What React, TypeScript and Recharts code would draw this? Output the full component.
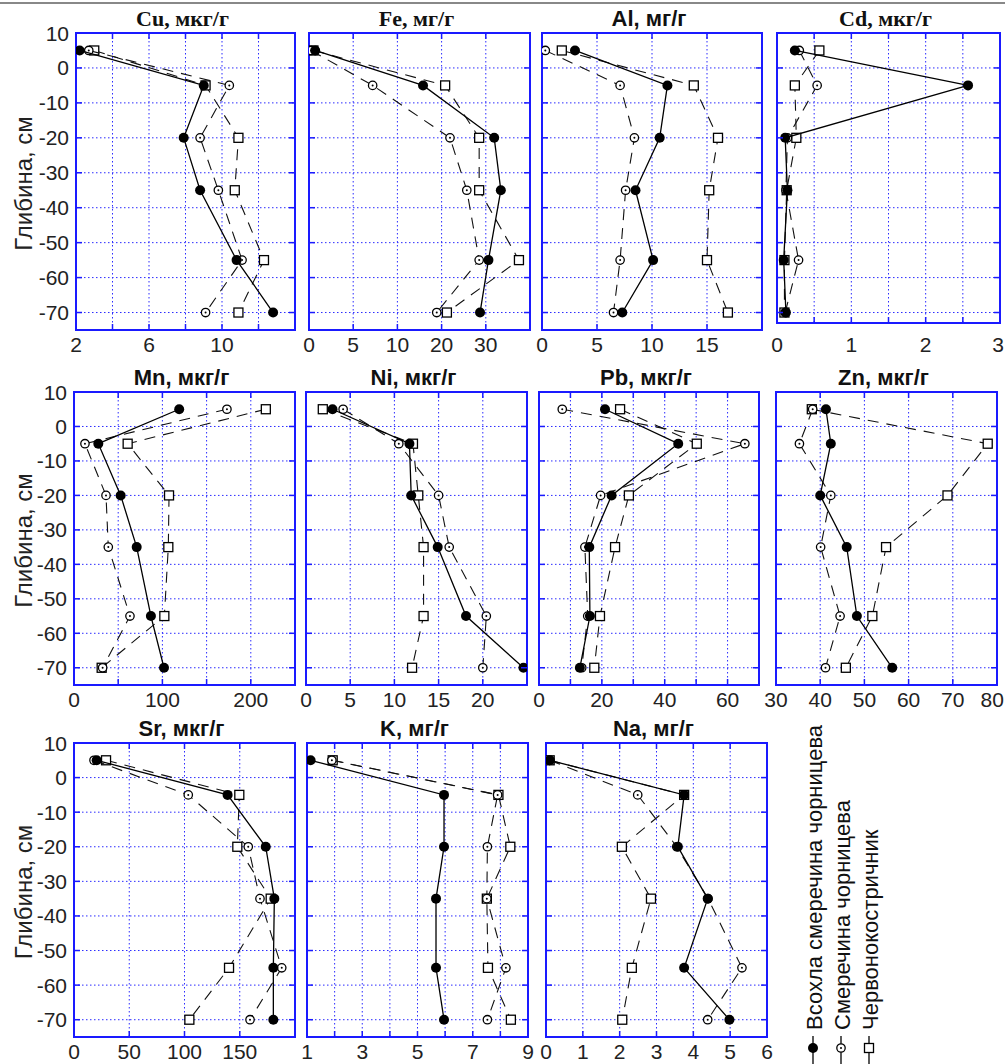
import React from 'react';
import { ScatterChart, Scatter, XAxis, YAxis, CartesianGrid, ReferenceArea } from 'recharts';

// ---- shared depth axis ----
const depths = [5, -5, -20, -35, -55, -70];
const depthTicks = [10, 0, -10, -20, -30, -40, -50, -60, -70];
const depthTickLabels = ['10', '0', '-10', '-20', '-30', '-40', '-50', '-60', '-70'];

const seriesNames = ['Всохла смеречина чорницева', 'Смеречина чорницева', 'Червонокостричник'];

// ---- Cu, мкг/г ----
const cuTicks = [2, 4, 6, 8, 10, 12, 14];
const cuTickLabels = ['2', '', '6', '', '10', '', ''];
const cuDead = [2.2, 9.0, 7.9, 8.8, 10.8, 12.8];
const cuSpruce = [2.7, 10.4, 8.8, 9.8, 11.1, 9.1];
const cuFescue = [3.0, 9.1, 10.9, 10.7, 12.3, 10.9];

// ---- Fe, мг/г (axis labelled 0,5,10,20,30 on equal grid steps) ----
const feTicks = [0, 10, 20, 30, 40, 50];
const feTickLabels = ['0', '5', '10', '20', '30', ''];
const feDead = [1.4, 25.8, 41.9, 43.4, 40.6, 38.7];
const feSpruce = [0.5, 14.4, 31.9, 35.7, 38.5, 28.9];
const feFescue = [1.0, 30.8, 38.5, 38.5, 47.5, 31.2];

// ---- Al, мг/г ----
const alTicks = [0, 5, 10, 15, 20];
const alTickLabels = ['0', '5', '10', '15', ''];
const alDead = [3.0, 11.4, 10.7, 8.5, 10.1, 7.3];
const alSpruce = [0.3, 7.1, 8.4, 7.6, 7.1, 6.5];
const alFescue = [1.8, 13.8, 16.0, 15.2, 15.0, 16.9];

// ---- Cd, мкг/г ----
const cdTicks = [0, 0.5, 1, 1.5, 2, 2.5, 3];
const cdTickLabels = ['0', '', '1', '', '2', '', '3'];
const cdDead = [0.24, 2.57, 0.11, 0.14, 0.09, 0.12];
const cdSpruce = [0.3, 0.54, 0.14, 0.12, 0.29, 0.11];
const cdFescue = [0.57, 0.24, 0.26, 0.13, 0.1, 0.1];

// ---- Mn, мкг/г ----
const mnTicks = [0, 50, 100, 150, 200, 250];
const mnTickLabels = ['0', '', '100', '', '200', ''];
const mnDead = [119, 27.5, 52.8, 70.9, 87, 101.8];
const mnSpruce = [173, 12.4, 36.2, 38.8, 63.3, 32.4];
const mnFescue = [217, 60.7, 107.5, 106.7, 102.2, 31.3];

// ---- Ni, мкг/г ----
const niTicks = [0, 5, 10, 15, 20, 25];
const niTickLabels = ['0', '5', '10', '15', '20', ''];
const niDead = [3.0, 11.7, 11.9, 14.9, 18.1, 24.6];
const niSpruce = [4.2, 10.5, 15.0, 16.2, 20.4, 20.0];
const niFescue = [1.9, 12.1, 12.7, 13.3, 13.3, 12.0];

// ---- Pb, мкг/г ----
const pbTicks = [0, 10, 20, 30, 40, 50, 60, 70];
const pbTickLabels = ['0', '', '20', '', '40', '', '60', ''];
const pbDead = [21.0, 44.3, 23.1, 16.0, 16.2, 13.0];
const pbSpruce = [7.4, 65.5, 19.6, 14.6, 15.5, 13.6];
const pbFescue = [25.8, 50.2, 28.6, 24.2, 19.4, 17.6];

// ---- Zn, мкг/г ----
const znTicks = [30, 40, 50, 60, 70, 80];
const znTickLabels = ['30', '40', '50', '60', '70', '80'];
const znDead = [41.3, 42.4, 40.0, 46.0, 48.3, 56.3];
const znSpruce = [38.3, 35.3, 42.4, 40.1, 44.5, 41.2];
const znFescue = [38.1, 77.9, 68.8, 54.9, 51.8, 45.8];

// ---- Sr, мкг/г ----
const srTicks = [0, 50, 100, 150, 200];
const srTickLabels = ['0', '50', '100', '150', ''];
const srDead = [20.5, 139, 173.5, 181.3, 180.4, 180.4];
const srSpruce = [18.1, 103.4, 157.7, 168.3, 188, 159.3];
const srFescue = [29, 149.6, 147.8, 178, 140.3, 104.4];

// ---- K, мг/г ----
const kTicks = [1, 2, 3, 4, 5, 6, 7, 8, 9];
const kTickLabels = ['1', '', '3', '', '5', '', '7', '', '9'];
const kDead = [1.13, 5.96, 5.96, 5.67, 5.67, 5.96];
const kSpruce = [1.9, 7.9, 7.53, 7.51, 8.2, 7.53];
const kFescue = [1.93, 7.93, 8.36, 7.51, 7.55, 8.38];

// ---- Na, мг/г ----
const naTicks = [0, 1, 2, 3, 4, 5, 6];
const naTickLabels = ['0', '1', '2', '3', '4', '5', '6'];
const naDead = [0.1, 3.75, 3.58, 4.39, 3.75, 4.98];
const naSpruce = [0.1, 2.49, 3.55, 4.4, 5.32, 4.39];
const naFescue = [0.1, 3.75, 2.06, 2.85, 2.33, 2.07];

// ---- styles / layout ----
const BLUE = '#1a1aff';
const GRID = '#2b2bff';
const SANS = '"Liberation Sans", Arial, sans-serif';
const SERIF = '"Liberation Serif", "Times New Roman", serif';
const PAGE_RIGHT = 1004;

type Box = { left: number; top: number; width: number; height: number };

const panels = [
  { title: 'Cu, мкг/г', serif: true, ticks: cuTicks, labels: cuTickLabels, a: cuDead, b: cuSpruce, c: cuFescue, yMin: -75, box: { left: 76, top: 33, width: 219, height: 297 }, showY: true },
  { title: 'Fe, мг/г', serif: true, ticks: feTicks, labels: feTickLabels, a: feDead, b: feSpruce, c: feFescue, yMin: -75, box: { left: 309, top: 33, width: 221, height: 297 }, showY: false },
  { title: 'Al, мг/г', serif: false, ticks: alTicks, labels: alTickLabels, a: alDead, b: alSpruce, c: alFescue, yMin: -75, box: { left: 542, top: 33, width: 220, height: 297 }, showY: false },
  { title: 'Cd, мкг/г', serif: true, ticks: cdTicks, labels: cdTickLabels, a: cdDead, b: cdSpruce, c: cdFescue, yMin: -73, box: { left: 777, top: 33, width: 223, height: 290 }, showY: false, labelDrop: 7 },
  { title: 'Mn, мкг/г', serif: false, ticks: mnTicks, labels: mnTickLabels, a: mnDead, b: mnSpruce, c: mnFescue, yMin: -75, box: { left: 74, top: 392, width: 221, height: 293 }, showY: true },
  { title: 'Ni, мкг/г', serif: false, ticks: niTicks, labels: niTickLabels, a: niDead, b: niSpruce, c: niFescue, yMin: -75, box: { left: 306, top: 392, width: 221, height: 293 }, showY: false },
  { title: 'Pb, мкг/г', serif: false, ticks: pbTicks, labels: pbTickLabels, a: pbDead, b: pbSpruce, c: pbFescue, yMin: -75, box: { left: 539, top: 392, width: 220, height: 293 }, showY: false },
  { title: 'Zn, мкг/г', serif: false, ticks: znTicks, labels: znTickLabels, a: znDead, b: znSpruce, c: znFescue, yMin: -75, box: { left: 776, top: 392, width: 221, height: 293 }, showY: false },
  { title: 'Sr, мкг/г', serif: false, ticks: srTicks, labels: srTickLabels, a: srDead, b: srSpruce, c: srFescue, yMin: -75, box: { left: 74, top: 743, width: 221, height: 294 }, showY: true },
  { title: 'K, мг/г', serif: false, ticks: kTicks, labels: kTickLabels, a: kDead, b: kSpruce, c: kFescue, yMin: -75, box: { left: 307, top: 743, width: 221, height: 294 }, showY: false },
  { title: 'Na, мг/г', serif: false, ticks: naTicks, labels: naTickLabels, a: naDead, b: naSpruce, c: naFescue, yMin: -75, box: { left: 546, top: 743, width: 221, height: 294 }, showY: false },
];

const filledCircle = (props: any) => <circle cx={props.cx} cy={props.cy} r={5} fill="#000" />;
const openCircle = (props: any) => (
  <g>
    <circle cx={props.cx} cy={props.cy} r={4.2} fill="#fff" stroke="#000" strokeWidth={1.3} />
    <circle cx={props.cx} cy={props.cy} r={1} fill="#000" />
  </g>
);
const openSquare = (props: any) => (
  <rect x={props.cx - 4.5} y={props.cy - 4.5} width={9} height={9} fill="#fff" stroke="#000" strokeWidth={1.3} />
);

function Panel({ p }: { p: any }) {
  const ML = p.showY ? 74 : 20;
  const MT = 16;
  const MR = 20;
  const MB = 40;
  const box: Box = p.box;
  const W = box.width + ML + MR;
  const H = box.height + MT + MB;
  const originX = box.left - ML;
  const plotL = ML;
  const plotR = ML + box.width;
  const plotT = MT;
  const plotB = MT + box.height;
  const domain = [p.ticks[0], p.ticks[p.ticks.length - 1]];
  const yDomain = [p.yMin, 10];
  const labelDrop = p.labelDrop || 0;
  const pts = (vals: number[]) => vals.map((v, i) => ({ x: v, y: depths[i] }));

  const xTick = (props: any) => {
    const { x, payload } = props;
    const idx = p.ticks.indexOf(payload.value);
    const label = idx >= 0 ? p.labels[idx] : '';
    const halfW = label.length * 5.9;
    const tx = Math.min(x, PAGE_RIGHT - originX - halfW);
    return (
      <g>
        <line x1={x} x2={x} y1={plotT} y2={plotT + 6} stroke={BLUE} strokeWidth={1.5} />
        <line x1={x} x2={x} y1={plotB - 6} y2={plotB} stroke={BLUE} strokeWidth={1.5} />
        {label ? (
          <text x={tx} y={plotB + 22 + labelDrop} textAnchor="middle" fontSize={21} fontFamily={SANS} fill="#222">
            {label}
          </text>
        ) : null}
      </g>
    );
  };
  const yTick = (props: any) => {
    const { y, payload } = props;
    const idx = depthTicks.indexOf(payload.value);
    return (
      <g>
        <line x1={plotL} x2={plotL + 6} y1={y} y2={y} stroke={BLUE} strokeWidth={1.5} />
        <line x1={plotR - 6} x2={plotR} y1={y} y2={y} stroke={BLUE} strokeWidth={1.5} />
        {p.showY ? (
          <text x={plotL - 7} y={y + 7.5} textAnchor="end" fontSize={21} fontFamily={SANS} fill="#222">
            {depthTickLabels[idx]}
          </text>
        ) : null}
      </g>
    );
  };

  const dash = { stroke: '#111', strokeWidth: 1.1, strokeDasharray: '11 8' };
  const solid = { stroke: '#000', strokeWidth: 1.3 };

  return (
    <div style={{ position: 'absolute', left: originX, top: box.top - MT, width: W, height: H }}>
      <ScatterChart width={W} height={H} margin={{ top: MT, right: MR, bottom: 0, left: 0 }}>
        <CartesianGrid stroke={GRID} strokeDasharray="1.5 2.5" strokeWidth={1} />
        <XAxis
          type="number"
          dataKey="x"
          domain={domain}
          ticks={p.ticks}
          interval={0}
          allowDataOverflow
          height={MB}
          axisLine={false}
          tickLine={false}
          tick={xTick}
        />
        <YAxis
          type="number"
          dataKey="y"
          domain={yDomain}
          ticks={depthTicks}
          interval={0}
          allowDataOverflow
          width={ML}
          axisLine={false}
          tickLine={false}
          tick={yTick}
        />
        <ReferenceArea
          x1={domain[0]}
          x2={domain[1]}
          y1={yDomain[0]}
          y2={yDomain[1]}
          fill="none"
          fillOpacity={0}
          stroke={BLUE}
          strokeWidth={2}
          ifOverflow="visible"
        />
        <Scatter data={pts(p.c)} line={dash} shape={openSquare} isAnimationActive={false} />
        <Scatter data={pts(p.b)} line={dash} shape={openCircle} isAnimationActive={false} />
        <Scatter data={pts(p.a)} line={solid} shape={filledCircle} isAnimationActive={false} />
      </ScatterChart>
    </div>
  );
}

const legendX = [813, 841, 869];

export default function App() {
  return (
    <div style={{ position: 'absolute', left: 0, top: 0, width: 1005, height: 1064, background: '#fff', overflow: 'hidden' }}>
      {panels.map((p) => (
        <Panel key={p.title} p={p} />
      ))}
      <svg width={1005} height={1064} style={{ position: 'absolute', left: 0, top: 0, pointerEvents: 'none' }}>
        <rect x={0} y={2} width={1005} height={2} fill="#888" />
        {panels.map((p) => (
          <text
            key={'t' + p.title}
            x={p.box.left + p.box.width / 2 - 3}
            y={p.box.top - 7}
            textAnchor="middle"
            fontSize={22}
            fontWeight="bold"
            fontFamily={p.serif ? SERIF : SANS}
            fill="#111"
          >
            {p.title}
          </text>
        ))}
        {panels
          .filter((p) => p.showY)
          .map((p) => (
            <text
              key={'y' + p.title}
              transform={`translate(32, ${p.box.top + p.box.height / 2 + 2}) rotate(-90)`}
              textAnchor="middle"
              fontSize={24}
              fontFamily={SANS}
              fill="#222"
            >
              Глибина, см
            </text>
          ))}
        {seriesNames.map((name, i) => {
          const x = legendX[i];
          return (
            <g key={name}>
              <line x1={x} x2={x} y1={1036} y2={1064} stroke="#000" strokeWidth={1.3} />
              {i === 0 ? filledCircle({ cx: x, cy: 1048 }) : i === 1 ? openCircle({ cx: x, cy: 1048 }) : openSquare({ cx: x, cy: 1048 })}
              <text transform={`translate(${x + 9}, 1030) rotate(-90)`} fontSize={22} fontFamily={SANS} fill="#111">
                {name}
              </text>
            </g>
          );
        })}
      </svg>
    </div>
  );
}
